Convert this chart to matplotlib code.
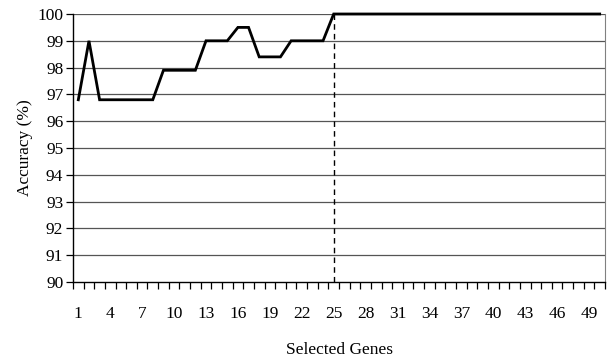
#!/usr/bin/env python3
"""Accuracy vs. number of selected genes (Excel-style line chart)."""

import matplotlib

matplotlib.use("Agg")
import matplotlib.pyplot as plt
import numpy as np

plt.rcParams["font.family"] = ["Liberation Serif", "DejaVu Serif"]

# 데이터
genes = list(range(1, 51))
accuracy = (
    [96.8, 99.0]
    + [96.8] * 6      # 3..8
    + [97.9] * 4      # 9..12
    + [99.0] * 3      # 13..15
    + [99.5] * 2      # 16..17
    + [98.4] * 3      # 18..20
    + [99.0] * 4      # 21..24
    + [100.0] * 26    # 25..50
)
best_genes = 25
y_ticks = list(range(90, 101))
x_tick_labels = list(range(1, 50, 3))

FS = 12.5

fig = plt.figure(figsize=(6.07, 3.58), dpi=100, facecolor="white")
ax = fig.add_axes([73 / 607, 1 - 282 / 358, 532 / 607, 268 / 358])

# 그리드
for yv in y_ticks[1:]:
    ax.axhline(yv, color="#555555", lw=0.9, zorder=1)

ax.plot(genes, accuracy, color="black", lw=2.0, zorder=3, clip_on=False,
        solid_joinstyle="miter")
ax.plot([best_genes, best_genes], [y_ticks[0], max(accuracy)], color="black",
        lw=1.0, ls=(0, (4, 3)), zorder=2)

ax.set_xlim(0.5, len(genes) + 0.5)
ax.set_ylim(y_ticks[0], y_ticks[-1])
ax.set_yticks(y_ticks)
ax.set_xticks(x_tick_labels)
ax.set_xticks(np.arange(0.5, len(genes) + 1), minor=True)
ax.tick_params(axis="x", which="major", length=0, pad=17, labelsize=FS)
ax.tick_params(axis="x", which="minor", length=5, width=0.9, direction="out")
ax.tick_params(axis="y", length=5, width=0.9, direction="out", labelsize=FS, pad=2)

ax.spines["top"].set_visible(False)
ax.spines["right"].set_color("#808080")
ax.spines["left"].set_linewidth(1.0)
ax.spines["bottom"].set_linewidth(1.0)

ax.set_xlabel("Selected Genes", fontsize=FS, labelpad=15)
ax.set_ylabel("Accuracy (%)", fontsize=FS, labelpad=3)

fig.savefig("out.png", dpi=100, facecolor="white")
